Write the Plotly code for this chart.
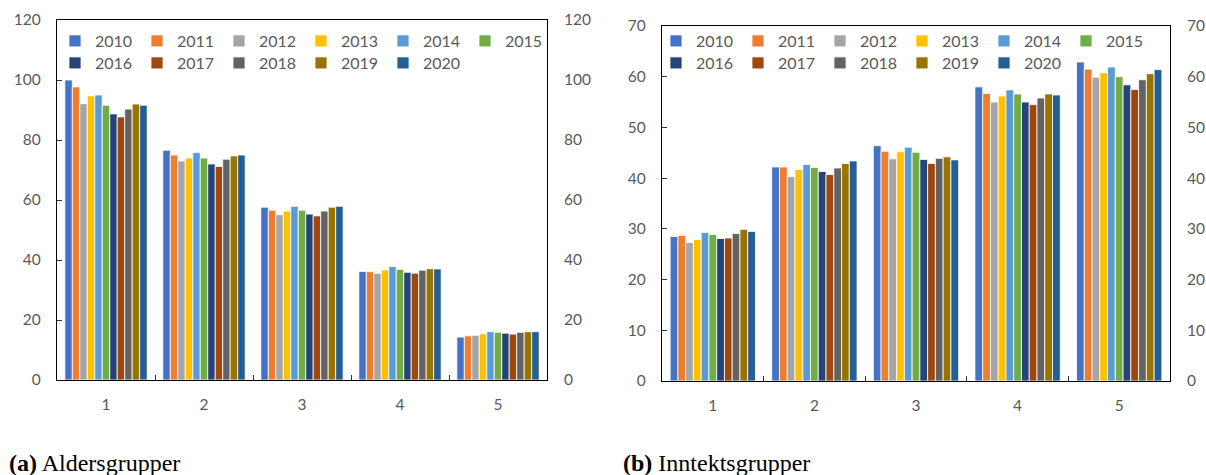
import plotly.graph_objects as go

years = ["2010", "2011", "2012", "2013", "2014", "2015",
         "2016", "2017", "2018", "2019", "2020"]
groups = ["1", "2", "3", "4", "5"]

# Aldersgrupper (left chart): values per year, groups 1..5
alder = {
    "2010": [100.0, 76.6, 57.6, 36.2, 14.3],
    "2011": [97.7, 75.0, 56.6, 36.1, 14.7],
    "2012": [92.1, 73.0, 55.1, 35.6, 14.9],
    "2013": [94.7, 74.0, 56.3, 36.7, 15.4],
    "2014": [95.0, 75.8, 57.9, 37.8, 16.1],
    "2015": [91.6, 74.0, 56.6, 36.9, 15.9],
    "2016": [88.7, 72.0, 55.3, 35.9, 15.6],
    "2017": [87.7, 71.2, 54.7, 35.6, 15.3],
    "2018": [90.3, 73.6, 56.3, 36.6, 15.9],
    "2019": [92.0, 74.7, 57.6, 37.1, 16.1],
    "2020": [91.6, 75.0, 57.9, 37.0, 16.1],
}

# Inntektsgrupper (right chart)
inntekt = {
    "2010": [28.5, 42.2, 46.4, 58.0, 62.9],
    "2011": [28.7, 42.2, 45.3, 56.7, 61.5],
    "2012": [27.3, 40.3, 43.8, 55.0, 59.9],
    "2013": [27.9, 41.7, 45.2, 56.2, 60.8],
    "2014": [29.3, 42.7, 46.1, 57.4, 61.9],
    "2015": [28.9, 42.1, 45.1, 56.6, 60.0],
    "2016": [28.1, 41.3, 43.7, 55.0, 58.4],
    "2017": [28.2, 40.7, 42.9, 54.5, 57.5],
    "2018": [29.1, 42.0, 43.9, 55.8, 59.4],
    "2019": [29.9, 42.9, 44.2, 56.6, 60.6],
    "2020": [29.5, 43.4, 43.6, 56.4, 61.4],
}

colors = ["#4472C4", "#ED7D31", "#A5A5A5", "#FFC000", "#5B9BD5", "#70AD47",
          "#264478", "#9E480E", "#636363", "#997300", "#255E91"]

left_ticks = [0, 20, 40, 60, 80, 100, 120]
right_ticks = [0, 10, 20, 30, 40, 50, 60, 70]

W, H = 1206, 475
FONT = "Lato, 'Open Sans', sans-serif"
GRAY = "#595959"
TS = 15.5

fig = go.Figure()

for i, yr in enumerate(years):
    row2 = i >= 6
    fig.add_trace(go.Bar(
        x=groups, y=alder[yr], name=yr, marker_color=colors[i],
        marker_line=dict(color="white", width=0.8),
        xaxis="x", yaxis="y", legend="legend2" if row2 else "legend",
        hoverinfo="x+y+name",
    ))
for i, yr in enumerate(years):
    row2 = i >= 6
    fig.add_trace(go.Bar(
        x=groups, y=inntekt[yr], name=yr, marker_color=colors[i],
        marker_line=dict(color="white", width=0.8),
        xaxis="x2", yaxis="y3", legend="legend4" if row2 else "legend3",
        hoverinfo="x+y+name",
    ))

def px_x(p):
    return p / W

def px_y(p):
    return 1 - p / H

L1 = [px_x(57), px_x(547)]
L1y = [px_y(380), px_y(20)]
R1 = [px_x(662), px_x(1170)]
R1y = [px_y(381), px_y(26)]

axis_common = dict(
    showline=True, linecolor="black", linewidth=1.3, mirror=True,
    ticks="inside", ticklen=5, tickcolor="#333333", tickwidth=1,
    showgrid=False, zeroline=False, automargin=False,
    tickfont=dict(family=FONT, size=TS, color=GRAY), ticklabelstandoff=12,
)

xcommon = dict(
    showline=True, linecolor="black", linewidth=1.3, mirror=True,
    showgrid=False, zeroline=False, automargin=False,
    ticks="inside", ticklen=5, tickcolor="#333333", tickson="boundaries",
    tickfont=dict(family=FONT, size=TS, color=GRAY), ticklabelstandoff=10,
    type="category", categoryorder="array", categoryarray=groups,
)

def right_axis(standoff):
    return dict(
        showline=False, ticks="", showgrid=False, zeroline=False, automargin=False,
        tickfont=dict(family=FONT, size=TS, color=GRAY), ticklabelstandoff=standoff,
    )

legend_common = dict(
    orientation="h", xanchor="left", yanchor="top",
    bgcolor="rgba(0,0,0,0)", borderwidth=0,
    font=dict(family=FONT, size=16, color=GRAY),
    entrywidth=37, entrywidthmode="pixels",
    tracegroupgap=0, itemclick=False, itemdoubleclick=False,
)

fig.update_layout(
    width=W, height=H,
    margin=dict(l=0, r=0, t=0, b=0, autoexpand=False),
    paper_bgcolor="white", plot_bgcolor="white",
    barmode="group", bargap=0.16, bargroupgap=0.0,
    showlegend=True,
    xaxis=dict(domain=L1, anchor="y", **xcommon),
    yaxis=dict(domain=L1y, anchor="x", range=[0, 120], tickvals=left_ticks, **axis_common),
    yaxis2=dict(domain=L1y, anchor="x", overlaying="y", side="right", range=[0, 120],
                tickvals=left_ticks, **right_axis(16)),
    xaxis2=dict(domain=R1, anchor="y3", **xcommon),
    yaxis3=dict(domain=R1y, anchor="x2", range=[0, 70], tickvals=right_ticks, **axis_common),
    yaxis4=dict(domain=R1y, anchor="x2", overlaying="y3", side="right", range=[0, 70],
                tickvals=right_ticks, **right_axis(16)),
    legend=dict(x=px_x(55), y=px_y(24), **legend_common),
    legend2=dict(x=px_x(55), y=px_y(46), **legend_common),
    legend3=dict(x=px_x(656), y=px_y(24), **legend_common),
    legend4=dict(x=px_x(656), y=px_y(46), **legend_common),
)

# invisible anchors so the right-hand label axes are drawn
fig.add_trace(go.Scatter(x=[groups[0]], y=[0], xaxis="x", yaxis="y2", mode="markers",
                         marker=dict(opacity=0), showlegend=False, hoverinfo="skip"))
fig.add_trace(go.Scatter(x=[groups[0]], y=[0], xaxis="x2", yaxis="y4", mode="markers",
                         marker=dict(opacity=0), showlegend=False, hoverinfo="skip"))

cap_font = dict(family="'Liberation Serif', 'DejaVu Serif', serif", size=24, color="black")
fig.add_annotation(text="<b>(a)</b> Aldersgrupper", xref="paper", yref="paper",
                   x=px_x(7), y=px_y(463), xanchor="left", yanchor="middle",
                   showarrow=False, font=cap_font)
fig.add_annotation(text="<b>(b)</b> Inntektsgrupper", xref="paper", yref="paper",
                   x=px_x(621), y=px_y(463), xanchor="left", yanchor="middle",
                   showarrow=False, font=cap_font)

fig.write_html(
    "out.html",
    config={"displayModeBar": False},
    post_script="document.body.style.margin='0';document.body.style.overflow='hidden';",
)
